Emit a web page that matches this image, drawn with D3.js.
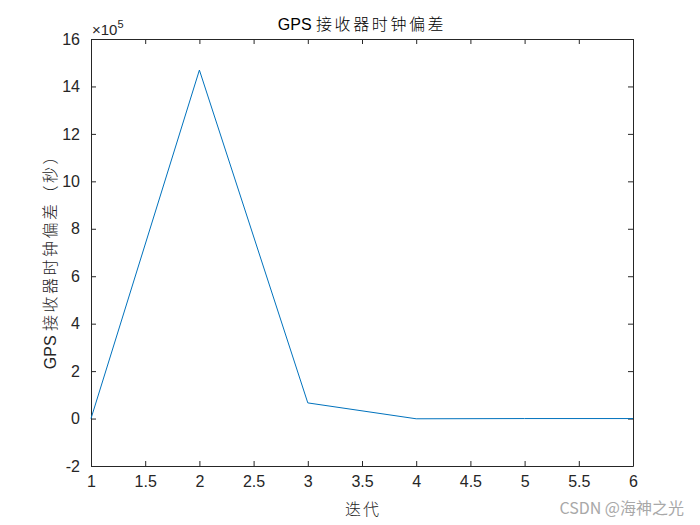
<!DOCTYPE html>
<html><head><meta charset="utf-8">
<script src="https://cdn.jsdelivr.net/npm/d3@7"></script>
<style>body{margin:0;background:#fff}svg{display:block}</style>
</head><body>
<svg id="c" width="700" height="525"></svg>
<script>
const iterations = [1, 2, 3, 4, 5, 6];
const clockBias = [0, 14.69, 0.66, -0.01, 0, 0]; // ×10^5 seconds
const xTicks = [1, 1.5, 2, 2.5, 3, 3.5, 4, 4.5, 5, 5.5, 6];
const yTicks = [-2, 0, 2, 4, 6, 8, 10, 12, 14, 16];

const svg = d3.select('#c');
const L = 91, R = 633, T = 39, B = 466;
const x = d3.scaleLinear().domain([1, 6]).range([L, R]);
const y = d3.scaleLinear().domain([-2, 16]).range([B, T]);
const font = "Arial, 'Liberation Sans', sans-serif";
const cjk = "'Noto Sans CJK SC', sans-serif";

svg.append('rect').attr('x', 0).attr('y', 0).attr('width', 700).attr('height', 525).attr('fill', '#fff');

function styleAxis(g) {
  g.selectAll('path').attr('stroke', '#262626');
  g.selectAll('line').attr('stroke', '#262626');
  g.selectAll('text').attr('fill', '#262626').style('font-family', font).style('font-size', '16px');
}
const fmt = d => String(d);
svg.append('g').attr('transform', `translate(0,${B})`)
  .call(d3.axisBottom(x).tickValues(xTicks).tickFormat(fmt).tickSizeInner(-5).tickSizeOuter(0).tickPadding(10))
  .call(styleAxis);
svg.append('g').attr('transform', `translate(0,${T})`)
  .call(d3.axisTop(x).tickValues(xTicks).tickFormat('').tickSizeInner(-5).tickSizeOuter(0))
  .call(styleAxis);
svg.append('g').attr('transform', `translate(${L},0)`)
  .call(d3.axisLeft(y).tickValues(yTicks).tickFormat(fmt).tickSizeInner(-5).tickSizeOuter(0).tickPadding(11))
  .call(styleAxis);
svg.append('g').attr('transform', `translate(${R},0)`)
  .call(d3.axisRight(y).tickValues(yTicks).tickFormat('').tickSizeInner(-5).tickSizeOuter(0))
  .call(styleAxis);

const line = d3.line().x((d, i) => x(iterations[i])).y(d => y(d));
svg.append('path').datum(clockBias).attr('d', line)
  .attr('fill', 'none').attr('stroke', '#0072BD').attr('stroke-width', 1);

// exponent label
const ex = svg.append('text').attr('x', L + 1).attr('y', T - 4)
  .attr('fill', '#262626').style('font-family', font).style('font-size', '15px');
ex.append('tspan').text('×10');
ex.append('tspan').attr('dy', -7).style('font-size', '11px').text('5');

function mixed(sel, latin, chinese, size, spacing) {
  sel.append('tspan').style('font-family', font).style('font-size', size + 'px').text(latin);
  sel.append('tspan').style('font-family', cjk).style('font-weight', 300)
    .style('font-size', size + 'px').style('letter-spacing', spacing + 'px').text(chinese);
}

// title
const title = svg.append('text').attr('x', (L + R) / 2).attr('y', 30).attr('text-anchor', 'middle').attr('fill', '#000');
mixed(title, 'GPS ', '接收器时钟偏差', 16, 2.6);

// x label
svg.append('text').attr('x', (L + R) / 2 + 1).attr('y', 515).attr('text-anchor', 'middle')
  .attr('fill', '#262626').style('font-family', cjk).style('font-weight', 300).style('font-size', '16px')
  .style('letter-spacing', '2px').text('迭代');

// y label
const yl = svg.append('text').attr('transform', `translate(56,${(T + B) / 2 + 5}) rotate(-90)`).attr('text-anchor', 'middle').attr('fill', '#262626');
mixed(yl, 'GPS ', '接收器时钟偏差（秒）', 16, 2.5);

// watermark
svg.append('text').attr('x', 684).attr('y', 514).attr('text-anchor', 'end')
  .attr('fill', '#a8a8a8').style('font-family', cjk).style('font-size', '16px').text('CSDN @海神之光');
</script>
</body></html>
